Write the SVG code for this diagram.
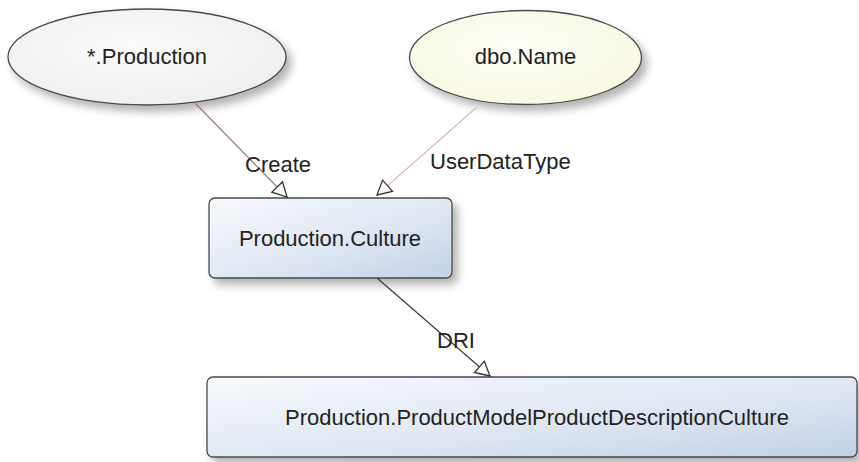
<svg xmlns="http://www.w3.org/2000/svg" width="859" height="462" viewBox="0 0 859 462">
  <defs>
    <style>
      text { font-family: "Liberation Sans", Arial, sans-serif; font-size: 22px; fill: #222; }
      .node { stroke: #4a4a4a; stroke-width: 1.3; }
      .lbl { text-anchor: start; }
      .ctr { text-anchor: middle; }
      .edge { fill: none; stroke-width: 1.2; }
    </style>
    <filter id="shadow" x="-20%" y="-20%" width="150%" height="160%">
      <feDropShadow dx="5" dy="6" stdDeviation="4.5" flood-color="#000" flood-opacity="0.3"/>
    </filter>
    <linearGradient id="boxGrad" x1="0" y1="0" x2="1" y2="1">
      <stop offset="0" stop-color="#f7f9fc"/>
      <stop offset="0.5" stop-color="#e2e9f3"/>
      <stop offset="1" stop-color="#c2d1e7"/>
    </linearGradient>
    <radialGradient id="greyGrad" cx="0.45" cy="0.4" r="0.65">
      <stop offset="0" stop-color="#fbfbfb"/>
      <stop offset="1" stop-color="#eeeeee"/>
    </radialGradient>
    <radialGradient id="creamGrad" cx="0.45" cy="0.4" r="0.65">
      <stop offset="0" stop-color="#fefef6"/>
      <stop offset="1" stop-color="#f8f8e2"/>
    </radialGradient>
    <marker id="openArrow" markerUnits="userSpaceOnUse" markerWidth="18" markerHeight="18" viewBox="-1 -9 16 18" refX="14" refY="0" orient="auto">
      <path d="M0,-7.5 L14,0 L0,7.5 Z" fill="#fff" stroke="#333" stroke-width="1.3" stroke-linejoin="miter"/>
    </marker>
  </defs>

  <rect width="859" height="462" fill="#fff"/>

  <g id="node-production-star">
    <ellipse class="node" cx="147" cy="57" rx="139" ry="48" fill="url(#greyGrad)" filter="url(#shadow)"/>
    <text class="ctr" x="147" y="64">*.Production</text>
  </g>

  <g id="node-dbo-name">
    <ellipse class="node" cx="525.5" cy="57.5" rx="116" ry="47" fill="url(#creamGrad)" filter="url(#shadow)"/>
    <text class="ctr" x="525.5" y="64">dbo.Name</text>
  </g>

  <g id="node-production-culture">
    <rect class="node" x="209" y="198" width="243" height="80" rx="6" ry="6" fill="url(#boxGrad)" filter="url(#shadow)"/>
    <text class="ctr" x="330" y="246">Production.Culture</text>
  </g>

  <g id="node-pmpdc">
    <rect class="node" x="207" y="377" width="650" height="80" rx="6" ry="6" fill="url(#boxGrad)" filter="url(#shadow)"/>
    <text class="ctr" x="537" y="425">Production.ProductModelProductDescriptionCulture</text>
  </g>

  <g id="connectors">
    <line class="edge" x1="195" y1="103" x2="287" y2="197" stroke="#a57474" marker-end="url(#openArrow)"/>
    <line class="edge" x1="477" y1="107" x2="377" y2="195" stroke="#d8b6c8" marker-end="url(#openArrow)"/>
    <line class="edge" x1="377" y1="278" x2="490" y2="376" stroke="#3a3a3a" marker-end="url(#openArrow)"/>
    <text class="lbl" x="245" y="172">Create</text>
    <text class="lbl" x="430" y="169">UserDataType</text>
    <text class="lbl" x="437" y="348">DRI</text>
  </g>
</svg>
